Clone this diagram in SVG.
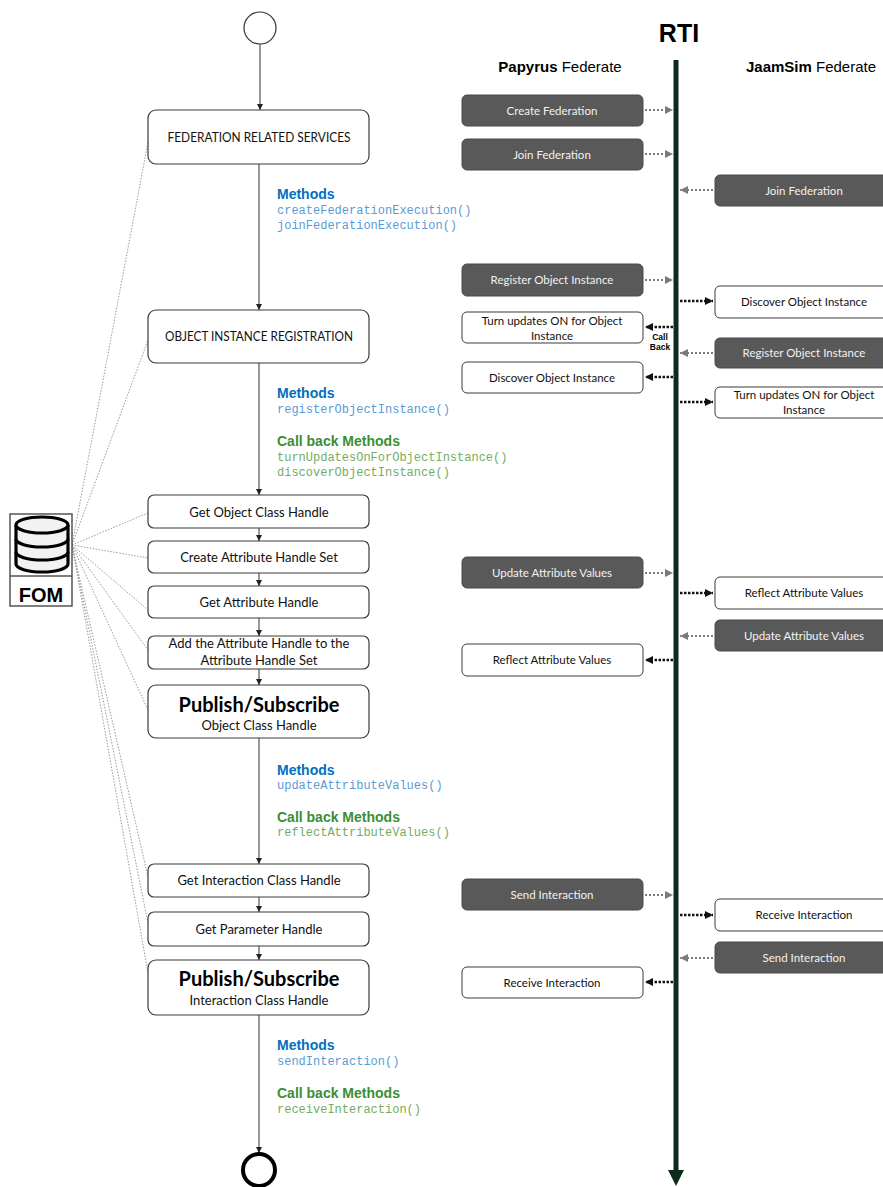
<svg xmlns="http://www.w3.org/2000/svg" width="883" height="1187" viewBox="0 0 883 1187">
<style>
.bg{fill:#ffffff}
.flow{fill:#ffffff;stroke:#3a3a3a;stroke-width:1.2}
.lbl{font-family:Lato,"Open Sans",sans-serif;font-size:13px;fill:#111;text-anchor:middle}
.big{font-family:Lato,"Open Sans",sans-serif;font-size:20px;font-weight:bold;fill:#000;text-anchor:middle}
.dark{fill:#595959;stroke:#4a4a4a;stroke-width:1}
.white{fill:#ffffff;stroke:#3a3a3a;stroke-width:1}
.dt{font-family:Lato,"Open Sans",sans-serif;font-size:11.5px;fill:#f2f2f2;text-anchor:middle}
.wt{font-family:Lato,"Open Sans",sans-serif;font-size:11.5px;fill:#111;text-anchor:middle}
.mh{font-family:"Liberation Sans",Arial,sans-serif;font-size:14px;font-weight:bold;fill:#0070C0}
.mm{font-family:"Liberation Mono","Courier New",monospace;font-size:12px;fill:#5B9BD5}
.ch{font-family:"Liberation Sans",Arial,sans-serif;font-size:14px;font-weight:bold;fill:#3A8F32}
.cm{font-family:"Liberation Mono","Courier New",monospace;font-size:12px;fill:#74AD62}
.fl{stroke:#333;stroke-width:1;fill:none}
.fom{stroke:#9a9a9a;stroke-width:1;stroke-dasharray:1.5 1.5;fill:none}
.gd{stroke:#7a7a7a;stroke-width:2;stroke-dasharray:2 2;fill:none}
.bd{stroke:#111;stroke-width:2.5;stroke-dasharray:2.5 1.5;fill:none}
.hdr{font-family:"Liberation Sans",Arial,sans-serif;font-size:15px;fill:#000;text-anchor:middle}
</style>
<defs>
<marker id="fa" markerUnits="userSpaceOnUse" markerWidth="8" markerHeight="8" refX="6" refY="3" orient="auto"><path d="M0,0 L6,3 L0,6 z" fill="#222"/></marker>
<marker id="ga" markerUnits="userSpaceOnUse" markerWidth="10" markerHeight="10" refX="8" refY="4" orient="auto"><path d="M0,0 L8,4 L0,8 z" fill="#7a7a7a"/></marker>
<marker id="ba" markerUnits="userSpaceOnUse" markerWidth="10" markerHeight="10" refX="8" refY="4" orient="auto"><path d="M0,0 L8,4 L0,8 z" fill="#111"/></marker>
</defs>
<rect class="bg" x="0" y="0" width="883" height="1187"/>

<!-- RTI -->
<g id="rti">
<text x="679" y="42" font-family="Liberation Sans,Arial,sans-serif" font-size="25" font-weight="bold" text-anchor="middle">RTI</text>
<line x1="676" y1="60" x2="676" y2="1172" stroke="#0d2a1c" stroke-width="5"/>
<polygon points="668,1170 684,1170 676,1186" fill="#0d2a1c"/>
</g>
<g id="headers">
<text class="hdr" x="560" y="72"><tspan font-weight="bold">Papyrus</tspan> Federate</text>
<text class="hdr" x="811" y="72"><tspan font-weight="bold">JaamSim</tspan> Federate</text>
</g>

<!-- connectors -->
<g id="connectors">
<line class="fl" x1="260" y1="44" x2="260" y2="110" marker-end="url(#fa)"/>
<line class="fl" x1="259" y1="164" x2="259" y2="310" marker-end="url(#fa)"/>
<line class="fl" x1="259" y1="363" x2="259" y2="495" marker-end="url(#fa)"/>
<line class="fl" x1="259" y1="528" x2="259" y2="541" marker-end="url(#fa)"/>
<line class="fl" x1="259" y1="573" x2="259" y2="586" marker-end="url(#fa)"/>
<line class="fl" x1="259" y1="618" x2="259" y2="636" marker-end="url(#fa)"/>
<line class="fl" x1="259" y1="669" x2="259" y2="685" marker-end="url(#fa)"/>
<line class="fl" x1="259" y1="738" x2="259" y2="864" marker-end="url(#fa)"/>
<line class="fl" x1="259" y1="897" x2="259" y2="912" marker-end="url(#fa)"/>
<line class="fl" x1="259" y1="946" x2="259" y2="960" marker-end="url(#fa)"/>
<line class="fl" x1="259" y1="1015" x2="259" y2="1153" marker-end="url(#fa)"/>

<line class="fom" x1="72" y1="545" x2="148" y2="142"/>
<line class="fom" x1="72" y1="545" x2="148" y2="340"/>
<line class="fom" x1="72" y1="545" x2="148" y2="513"/>
<line class="fom" x1="72" y1="545" x2="148" y2="558"/>
<line class="fom" x1="72" y1="545" x2="148" y2="610"/>
<line class="fom" x1="72" y1="545" x2="148" y2="650"/>
<line class="fom" x1="72" y1="545" x2="148" y2="710"/>
<line class="fom" x1="72" y1="545" x2="148" y2="877"/>
<line class="fom" x1="72" y1="545" x2="148" y2="923"/>
<line class="fom" x1="72" y1="545" x2="148" y2="973"/>

<line class="gd" x1="645" y1="110" x2="673" y2="110" marker-end="url(#ga)"/>
<line class="gd" x1="645" y1="154" x2="673" y2="154" marker-end="url(#ga)"/>
<line class="gd" x1="713" y1="190" x2="680" y2="190" marker-end="url(#ga)"/>
<line class="gd" x1="645" y1="280" x2="673" y2="280" marker-end="url(#ga)"/>
<line class="bd" x1="680" y1="301" x2="713" y2="301" marker-end="url(#ba)"/>
<line class="bd" x1="673" y1="327" x2="645" y2="327" marker-end="url(#ba)"/>
<line class="gd" x1="713" y1="353" x2="680" y2="353" marker-end="url(#ga)"/>
<line class="bd" x1="673" y1="377" x2="645" y2="377" marker-end="url(#ba)"/>
<line class="bd" x1="680" y1="402" x2="713" y2="402" marker-end="url(#ba)"/>
<line class="gd" x1="645" y1="573" x2="673" y2="573" marker-end="url(#ga)"/>
<line class="bd" x1="680" y1="593" x2="713" y2="593" marker-end="url(#ba)"/>
<line class="gd" x1="713" y1="636" x2="680" y2="636" marker-end="url(#ga)"/>
<line class="bd" x1="673" y1="660" x2="645" y2="660" marker-end="url(#ba)"/>
<line class="gd" x1="645" y1="895" x2="673" y2="895" marker-end="url(#ga)"/>
<line class="bd" x1="680" y1="915" x2="713" y2="915" marker-end="url(#ba)"/>
<line class="gd" x1="713" y1="958" x2="680" y2="958" marker-end="url(#ga)"/>
<line class="bd" x1="673" y1="982" x2="645" y2="982" marker-end="url(#ba)"/>
<text x="660" y="340" font-family="Liberation Sans,Arial,sans-serif" font-size="8.5" font-weight="bold" text-anchor="middle">Call</text>
<text x="660" y="350" font-family="Liberation Sans,Arial,sans-serif" font-size="8.5" font-weight="bold" text-anchor="middle">Back</text>
</g>

<!-- start / end -->
<g id="start"><circle cx="260" cy="28" r="16" fill="#fff" stroke="#333" stroke-width="1.2"/></g>
<g id="end"><circle cx="259" cy="1170" r="16" fill="#fff" stroke="#000" stroke-width="4"/></g>

<!-- FOM -->
<g id="fom">
<rect x="10" y="514" width="62" height="92" fill="#fff" stroke="#555" stroke-width="1.5"/>
<line x1="10" y1="576" x2="72" y2="576" stroke="#555" stroke-width="1.5"/>
<path d="M16,525 L16,564 A26,8 0 0 0 68,564 L68,525" fill="#f2f2f2" stroke="#000" stroke-width="3.2"/>
<ellipse cx="42" cy="525" rx="26" ry="8" fill="#f2f2f2" stroke="#000" stroke-width="3.2"/>
<path d="M16,539 A26,8 0 0 0 68,539" fill="none" stroke="#000" stroke-width="3.2"/>
<path d="M16,552 A26,8 0 0 0 68,552" fill="none" stroke="#000" stroke-width="3.2"/>
<text x="41" y="602" font-family="Liberation Sans,Arial,sans-serif" font-size="20" font-weight="bold" text-anchor="middle">FOM</text>
</g>

<!-- flow nodes -->
<g id="fed"><rect class="flow" x="148" y="110" width="221" height="54" rx="8"/><text class="lbl" x="259" y="142" textLength="183" lengthAdjust="spacingAndGlyphs">FEDERATION RELATED SERVICES</text></g>
<g id="fed-methods">
<text class="mh" x="277" y="199">Methods</text>
<text class="mm" x="277" y="214">createFederationExecution()</text>
<text class="mm" x="277" y="229">joinFederationExecution()</text>
</g>
<g id="oir"><rect class="flow" x="148" y="310" width="221" height="53" rx="8"/><text class="lbl" x="259" y="341" textLength="188" lengthAdjust="spacingAndGlyphs">OBJECT INSTANCE REGISTRATION</text></g>
<g id="oir-methods">
<text class="mh" x="277" y="398">Methods</text>
<text class="mm" x="277" y="413">registerObjectInstance()</text>
<text class="ch" x="277" y="446">Call back Methods</text>
<text class="cm" x="277" y="461">turnUpdatesOnForObjectInstance()</text>
<text class="cm" x="277" y="476">discoverObjectInstance()</text>
</g>
<g id="goch"><rect class="flow" x="148" y="495" width="221" height="33" rx="6"/><text class="lbl" x="259" y="517">Get Object Class Handle</text></g>
<g id="cahs"><rect class="flow" x="148" y="541" width="221" height="32" rx="6"/><text class="lbl" x="259" y="562">Create Attribute Handle Set</text></g>
<g id="gah"><rect class="flow" x="148" y="586" width="221" height="32" rx="6"/><text class="lbl" x="259" y="607">Get Attribute Handle</text></g>
<g id="add"><rect class="flow" x="148" y="636" width="221" height="33" rx="6"/><text class="lbl" x="259" y="648">Add the Attribute Handle to the</text><text class="lbl" x="259" y="665">Attribute Handle Set</text></g>
<g id="psoc"><rect class="flow" x="148" y="685" width="221" height="53" rx="8"/><text class="big" x="259" y="712">Publish/Subscribe</text><text class="lbl" x="259" y="730">Object Class Handle</text></g>
<g id="attr-methods">
<text class="mh" x="277" y="775">Methods</text>
<text class="mm" x="277" y="789">updateAttributeValues()</text>
<text class="ch" x="277" y="822">Call back Methods</text>
<text class="cm" x="277" y="836">reflectAttributeValues()</text>
</g>
<g id="gich"><rect class="flow" x="148" y="864" width="221" height="33" rx="6"/><text class="lbl" x="259" y="885">Get Interaction Class Handle</text></g>
<g id="gph"><rect class="flow" x="148" y="912" width="221" height="34" rx="6"/><text class="lbl" x="259" y="934">Get Parameter Handle</text></g>
<g id="psic"><rect class="flow" x="148" y="960" width="221" height="55" rx="8"/><text class="big" x="259" y="986">Publish/Subscribe</text><text class="lbl" x="259" y="1005">Interaction Class Handle</text></g>
<g id="int-methods">
<text class="mh" x="277" y="1050">Methods</text>
<text class="mm" x="277" y="1065">sendInteraction()</text>
<text class="ch" x="277" y="1098">Call back Methods</text>
<text class="cm" x="277" y="1113">receiveInteraction()</text>
</g>

<!-- Papyrus federate -->
<g id="p-create"><rect class="dark" x="462" y="95" width="181" height="31" rx="5"/><text class="dt" x="552" y="114.5">Create Federation</text></g>
<g id="p-join"><rect class="dark" x="462" y="139" width="181" height="31" rx="5"/><text class="dt" x="552" y="158.5">Join Federation</text></g>
<g id="p-reg"><rect class="dark" x="462" y="264" width="181" height="32" rx="5"/><text class="dt" x="552" y="284">Register Object Instance</text></g>
<g id="p-turn"><rect class="white" x="462" y="312" width="181" height="31" rx="5"/><text class="wt" x="552" y="325">Turn updates ON for Object</text><text class="wt" x="552" y="340">Instance</text></g>
<g id="p-disc"><rect class="white" x="462" y="362" width="181" height="31" rx="5"/><text class="wt" x="552" y="381.5">Discover Object Instance</text></g>
<g id="p-upd"><rect class="dark" x="462" y="557" width="181" height="31" rx="5"/><text class="dt" x="552" y="576.5">Update Attribute Values</text></g>
<g id="p-refl"><rect class="white" x="462" y="644" width="181" height="32" rx="5"/><text class="wt" x="552" y="664">Reflect Attribute Values</text></g>
<g id="p-send"><rect class="dark" x="462" y="879" width="181" height="31" rx="5"/><text class="dt" x="552" y="898.5">Send Interaction</text></g>
<g id="p-recv"><rect class="white" x="462" y="967" width="181" height="31" rx="5"/><text class="wt" x="552" y="986.5">Receive Interaction</text></g>

<!-- JaamSim federate -->
<g id="j-join"><rect class="dark" x="715" y="175" width="180" height="31" rx="5"/><text class="dt" x="804" y="194.5">Join Federation</text></g>
<g id="j-disc"><rect class="white" x="715" y="286" width="180" height="32" rx="5"/><text class="wt" x="804" y="306">Discover Object Instance</text></g>
<g id="j-reg"><rect class="dark" x="715" y="338" width="180" height="30" rx="5"/><text class="dt" x="804" y="357">Register Object Instance</text></g>
<g id="j-turn"><rect class="white" x="715" y="387" width="180" height="31" rx="5"/><text class="wt" x="804" y="399">Turn updates ON for Object</text><text class="wt" x="804" y="414">Instance</text></g>
<g id="j-refl"><rect class="white" x="715" y="577" width="180" height="32" rx="5"/><text class="wt" x="804" y="597">Reflect Attribute Values</text></g>
<g id="j-upd"><rect class="dark" x="715" y="620" width="180" height="31" rx="5"/><text class="dt" x="804" y="639.5">Update Attribute Values</text></g>
<g id="j-recv"><rect class="white" x="715" y="899" width="180" height="32" rx="5"/><text class="wt" x="804" y="919">Receive Interaction</text></g>
<g id="j-send"><rect class="dark" x="715" y="942" width="180" height="31" rx="5"/><text class="dt" x="804" y="961.5">Send Interaction</text></g>
</svg>
